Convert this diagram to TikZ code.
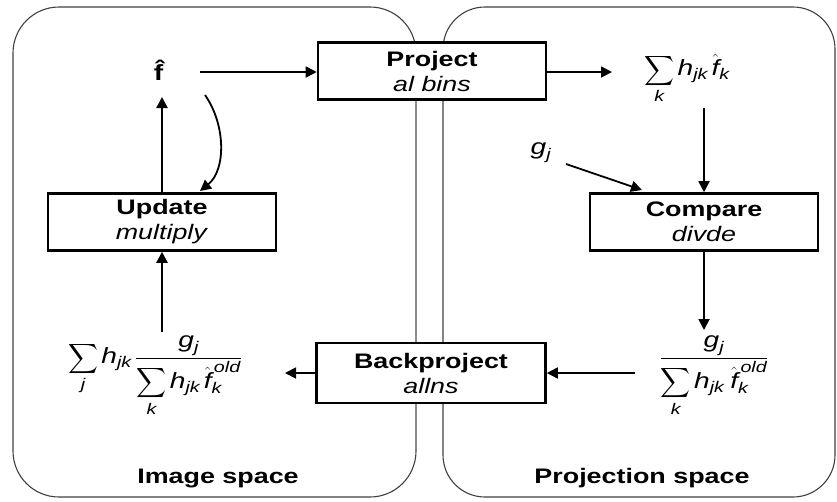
\documentclass[tikz,border=0pt]{standalone}
\usepackage{amsmath}
\usepackage{fontspec}
\setmainfont[FakeStretch=1.28]{Liberation Sans}
\usetikzlibrary{arrows.meta}
\newcommand\vi[1]{\text{\itshape #1}}
\begin{document}
\begin{tikzpicture}[x=1pt,y=-1pt,
  panel/.style={draw=black!75,line width=1.1pt,rounded corners=46pt},
  procbox/.style={draw=black,line width=2.6pt,fill=white,minimum width=228pt,minimum height=57pt,align=center,font=\fontsize{21}{25}\selectfont,inner sep=0pt},
  arr/.style={draw=black,line width=1.8pt,-{Triangle[length=11pt,width=11pt]}},
  lbl/.style={font=\fontsize{22}{25}\selectfont,inner sep=1pt},
  ttl/.style={font=\fontsize{21}{24}\selectfont\bfseries}]
\useasboundingbox (0,0) rectangle (837,501);
% panels
\draw[panel] (13,7) rectangle (416,497);
\draw[black!45,line width=2pt] (416,60) -- (416,450);
\draw[panel,rounded corners=42pt] (443,7) rectangle (835,497);
% boxes
\node[procbox] (proj) at (432,71) {\textbf{Project}\\\textit{al bins}};
\node[procbox] (upd) at (162,222) {\textbf{Update}\\\textit{multiply}};
\node[procbox] (cmp) at (704,222) {\textbf{Compare}\\\textit{divde}};
\node[procbox,minimum width=229pt,minimum height=60pt] (back) at (431,373) {\textbf{Backproject}\\\textit{allns}};
% terms
\node[lbl] (fhat) at (161,70) {\textbf{\^{f}}};
\node[lbl] (sum) at (687,79) {$\displaystyle\sum_{\vi{k}}\vi{h}_{\vi{jk}}\,\hat{\vi{f}}_{\vi{k}}$};
\node[lbl] (gj) at (541,153) {$\vi{g}_{\vi{j}}$};
\node[lbl] (rfrac) at (714,376) {$\dfrac{\vi{g}_{\vi{j}}}{\displaystyle\sum_{\vi{k}}\vi{h}_{\vi{jk}}\;\hat{\vi{f}}_{\vi{k}}^{\,\vi{old}}}$};
\node[lbl] (lfrac) at (155,376) {$\displaystyle\sum_{\vi{j}}\vi{h}_{\vi{jk}}\,\frac{\vi{g}_{\vi{j}}}{\displaystyle\sum_{\vi{k}}\vi{h}_{\vi{jk}}\,\hat{\vi{f}}_{\vi{k}}^{\,\vi{old}}}$};
% coordinates
\coordinate (fa) at (200,72);
\coordinate (fb) at (162,97);
\coordinate (ca) at (205,95);
\coordinate (cb) at (200,191);
\coordinate (sa) at (612,72);
\coordinate (sb) at (704,108);
\coordinate (ga) at (566,164);
\coordinate (gb) at (642,190);
\coordinate (ra) at (704,330);
\coordinate (rb) at (635,373);
\coordinate (la) at (285,373);
\coordinate (lb) at (162,332);
% connectors
\draw[arr] (fa) -- (proj.west |- fa);
\draw[arr,line width=2.4pt] (upd.north) -- (fb);
\draw[arr] (ca) .. controls (226,125) and (226,170) .. (cb);
\draw[arr] (proj.east |- sa) -- (sa);
\draw[arr] (sb) -- (cmp.north);
\draw[arr] (ga) -- (gb);
\draw[arr] (cmp.south) -- (ra);
\draw[arr] (rb) -- (back.east);
\draw[arr] (back.west) -- (la);
\draw[arr,line width=2.4pt] (lb) -- (upd.south);
% titles
\node[ttl] (imsp) at (218,478) {Image space};
\node[ttl] (prsp) at (642,478) {Projection space};
\end{tikzpicture}
\end{document}
